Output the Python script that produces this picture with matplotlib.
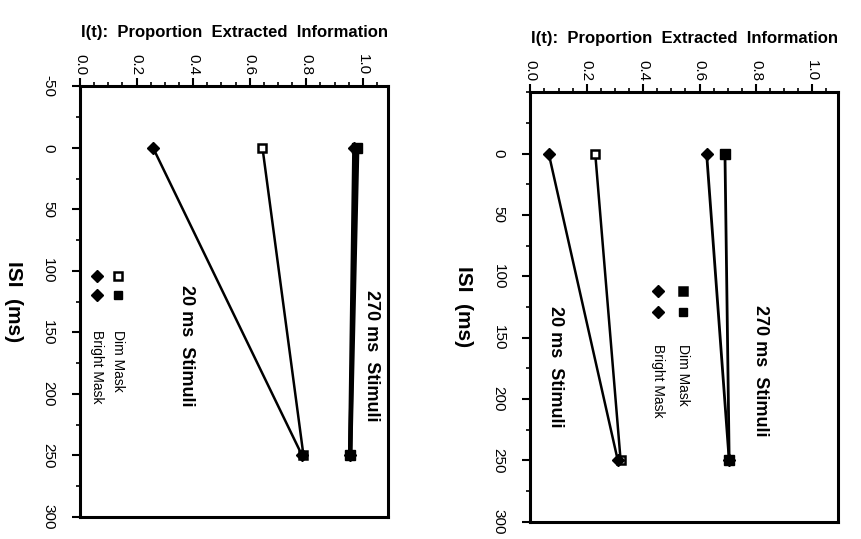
import matplotlib.pyplot as plt
from matplotlib.ticker import MultipleLocator

plt.rcParams['font.family'] = ['Liberation Sans', 'DejaVu Sans']

isi = [0, 250]

# I(t) values, left experiment
left_20_dim = [0.645, 0.79]
left_20_bright = [0.258, 0.785]
left_270_dim = [0.98, 0.955]
left_270_bright = [0.97, 0.955]

# I(t) values, right experiment
right_20_dim = [0.23, 0.32]
right_20_bright = [0.065, 0.31]
right_270_dim = [0.69, 0.705]
right_270_bright = [0.625, 0.705]

it_ticks = [0.0, 0.2, 0.4, 0.6, 0.8, 1.0]
it_ticklabels = ['0.0', '0.2', '0.4', '0.6', '0.8', '1.0']


def setup_axes(ax, isi_ticks):
    # I(t) runs across, ISI runs down the page
    ax.set_xlim(0, 1.09)
    ax.set_ylim(300, -50)
    ax.xaxis.tick_top()
    ax.xaxis.set_label_position('top')
    ax.set_xticks(it_ticks)
    ax.set_xticklabels(it_ticklabels, rotation=-90, fontsize=11)
    ax.xaxis.set_minor_locator(MultipleLocator(0.05))
    ax.set_yticks(isi_ticks)
    ax.set_yticklabels([str(t) for t in isi_ticks], rotation=-90, fontsize=11,
                       va='center')
    ax.yaxis.set_minor_locator(MultipleLocator(25))
    ax.tick_params(which='major', length=6, width=1.5)
    ax.tick_params(which='minor', length=3, width=1.2)
    ax.tick_params(axis='x', pad=2)
    ax.tick_params(axis='y', pad=12)
    for s in ax.spines.values():
        s.set_linewidth(2.2)
    ax.set_xlabel('I(t):  Proportion  Extracted  Information', fontsize=12,
                  fontweight='bold', labelpad=12)
    ax.set_ylabel('ISI  (ms)', fontsize=15, fontweight='bold', rotation=-90,
                  labelpad=20, va='center')


def draw_series(ax, dim20, bright20, dim270, bright270, lw270):
    ax.plot(dim270, isi, color='black', lw=lw270, marker='s', ms=7, zorder=3)
    ax.plot(bright270, isi, color='black', lw=lw270, marker='D', ms=6, zorder=3)
    ax.plot(dim20, isi, color='black', lw=1.8, marker='s', ms=6,
            markerfacecolor='white', markeredgewidth=1.8, zorder=3)
    ax.plot(bright20, isi, color='black', lw=1.8, marker='D', ms=6, zorder=4)


def draw_key(ax, x_sq, x_di, y1, y2, y_text, open_first):
    ax.plot(x_sq, y1, marker='s', ms=6, color='black', ls='',
            markerfacecolor='white' if open_first else 'black',
            markeredgewidth=1.8)
    ax.plot(x_sq, y2, marker='s', ms=6, color='black', ls='')
    ax.plot(x_di, y1, marker='D', ms=6, color='black', ls='')
    ax.plot(x_di, y2, marker='D', ms=6, color='black', ls='')
    ax.text(x_sq, y_text, 'Dim Mask', rotation=-90, ha='center', va='top',
            fontsize=10)
    ax.text(x_di, y_text, 'Bright Mask', rotation=-90, ha='center', va='top',
            fontsize=10)


fig = plt.figure(figsize=(8.61, 5.39), dpi=100)
ax1 = fig.add_axes([0.093, 0.041, 0.358, 0.799])
ax2 = fig.add_axes([0.616, 0.032, 0.357, 0.797])

setup_axes(ax1, [-50, 0, 50, 100, 150, 200, 250, 300])
draw_series(ax1, left_20_dim, left_20_bright, left_270_dim, left_270_bright, 3.2)
draw_key(ax1, 0.135, 0.06, 104, 120, 148, True)
ax1.text(1.03, 169, '270 ms  Stimuli', rotation=-90, ha='center', va='center',
         fontsize=13, fontweight='bold')
ax1.text(0.375, 161, '20 ms  Stimuli', rotation=-90, ha='center', va='center',
         fontsize=13, fontweight='bold')

setup_axes(ax2, [0, 50, 100, 150, 200, 250, 300])
draw_series(ax2, right_20_dim, right_20_bright, right_270_dim, right_270_bright, 2.0)
draw_key(ax2, 0.54, 0.452, 112, 129, 155, False)
ax2.text(0.815, 177, '270 ms  Stimuli', rotation=-90, ha='center', va='center',
         fontsize=13, fontweight='bold')
ax2.text(0.09, 174, '20 ms  Stimuli', rotation=-90, ha='center', va='center',
         fontsize=13, fontweight='bold')

fig.savefig('out.png', dpi=100)
